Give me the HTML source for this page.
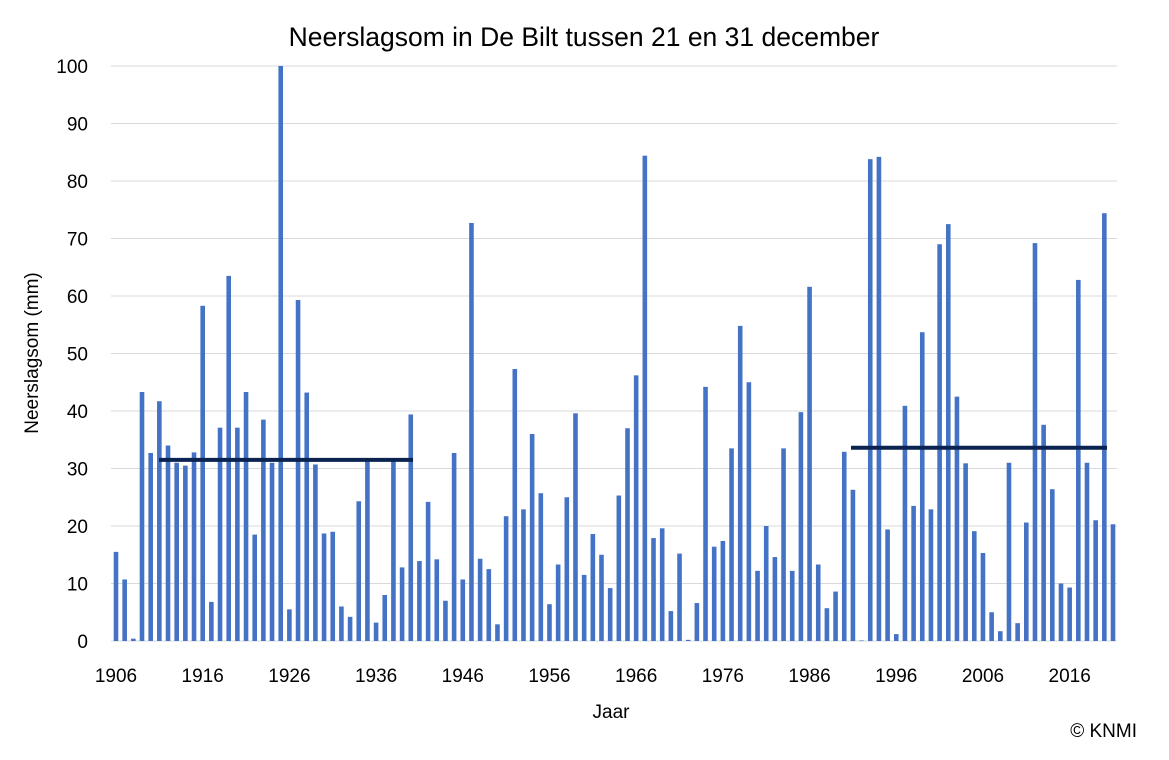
<!DOCTYPE html>
<html><head><meta charset="utf-8"><style>
html,body{margin:0;padding:0;background:#fff;}
svg{display:block;font-family:"Liberation Sans",Arial,sans-serif;}
</style></head><body>
<svg id="c" width="1169" height="760" viewBox="0 0 1169 760">
<rect width="1169" height="760" fill="#fff"/>
<text x="584" y="46" font-size="26.5" text-anchor="middle" fill="#000">Neerslagsom in De Bilt tussen 21 en 31 december</text>
<g id="grid"></g>
<g id="bars"></g>
<line x1="159" y1="459.9" x2="413" y2="459.9" stroke="#0b2350" stroke-width="4"/>
<line x1="851" y1="447.8" x2="1107" y2="447.8" stroke="#0b2350" stroke-width="4"/>
<g id="xl"></g>
<text x="611" y="718" font-size="19" text-anchor="middle">Jaar</text>
<text x="38" y="353" font-size="19" text-anchor="middle" transform="rotate(-90 38 353)">Neerslagsom (mm)</text>
<text x="1137" y="737" font-size="19" text-anchor="end">© KNMI</text>
</svg>
<script>
var v=[15.5,10.7,0.4,43.3,32.7,41.7,34,31,30.5,32.8,58.3,6.8,37.1,63.5,37.1,43.3,18.5,38.5,31,100,5.5,59.3,43.2,30.7,18.7,19,6,4.2,24.3,31.5,3.2,8,31.3,12.8,39.4,13.9,24.2,14.2,7,32.7,10.7,72.7,14.3,12.5,2.9,21.7,47.3,22.9,36,25.7,6.4,13.3,25,39.6,11.5,18.6,15,9.2,25.3,37,46.2,84.4,17.9,19.6,5.2,15.2,0.2,6.6,44.2,16.4,17.4,33.5,54.8,45,12.2,20,14.6,33.5,12.2,39.8,61.6,13.3,5.7,8.6,32.9,26.3,0.1,83.8,84.2,19.4,1.2,40.9,23.5,53.7,22.9,69,72.5,42.5,30.9,19.1,15.3,5,1.7,31,3.1,20.6,69.2,37.6,26.4,10,9.3,62.8,31,21,74.4,20.3];
var ns="http://www.w3.org/2000/svg";
function el(p,t,a,tx){var e=document.createElementNS(ns,t);for(var k in a)e.setAttribute(k,a[k]);if(tx!==undefined)e.textContent=tx;document.getElementById(p).appendChild(e);}
var y0=641,s=5.75;
for(var i=0;i<=10;i++){var y=y0-i*10*s;el("grid","line",{x1:111,x2:1117,y1:y,y2:y,stroke:"#d9d9d9","stroke-width":1});
el("grid","text",{x:88,y:y+7,"font-size":19,"text-anchor":"end"},String(i*10));}
var dx=(1113-116)/(v.length-1);
for(var j=0;j<v.length;j++){var x=116+j*dx;el("bars","rect",{x:x-2.3,y:y0-v[j]*s,width:4.6,height:v[j]*s,fill:"#4472c4"});}
for(var yr=1906;yr<=2016;yr+=10){var x=116+(yr-1906)*dx;el("xl","text",{x:x,y:682,"font-size":19,"text-anchor":"middle"},String(yr));}
</script>
</body></html>
